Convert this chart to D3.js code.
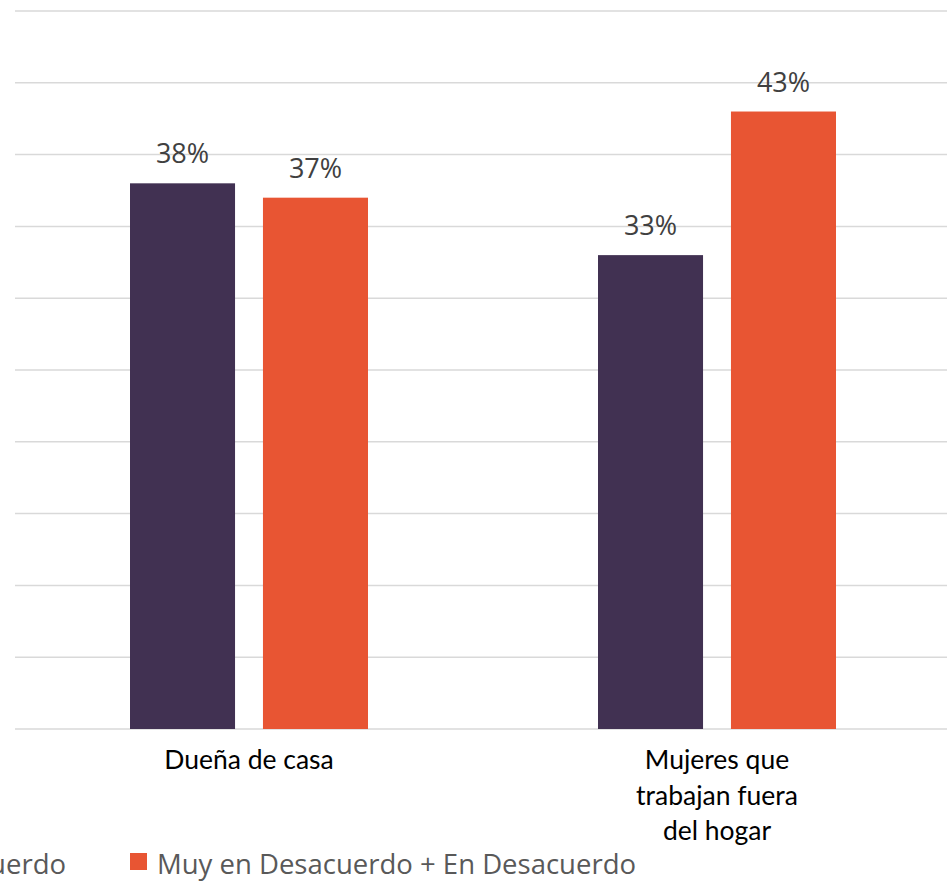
<!DOCTYPE html>
<html><head><meta charset="utf-8">
<script src="https://cdn.jsdelivr.net/npm/d3@7"></script>
<style>html,body{margin:0;padding:0;background:#fff;overflow:hidden}</style>
</head><body>
<svg id="c" width="947" height="882"></svg>
<script>
const categories = ["Dueña de casa", "Mujeres que\ntrabajan fuera\ndel hogar"];
const seriesNames = ["Muy de Acuerdo + De Acuerdo", "Muy en Desacuerdo + En Desacuerdo"];
const seriesA = [38, 33];
const seriesB = [37, 43];
const colors = ["#413152", "#E85533"];
const yTicks = [0,5,10,15,20,25,30,35,40,45,50];

const svg = d3.select("#c");
const x = d3.scaleBand().domain(categories).range([15, 951]).paddingInner(0).paddingOuter(0);
const xs = d3.scaleBand().domain([0,1]).range([0, 238]).paddingInner(0.21);
const y = d3.scaleLinear().domain([0, 50]).range([729, 11]);

svg.append("g").selectAll("line").data(yTicks).join("line")
  .attr("x1", 15).attr("x2", 951)
  .attr("y1", d => y(d)).attr("y2", d => y(d))
  .attr("stroke", "#D9D9D9").attr("stroke-width", 1.5);

const data = categories.map((c,i) => ({c, vals:[seriesA[i], seriesB[i]]}));
const g = svg.append("g").selectAll("g").data(data).join("g")
  .attr("transform", d => `translate(${x(d.c) + x.bandwidth()/2 - 119},0)`);
g.selectAll("rect").data(d => d.vals).join("rect")
  .attr("x", (d,i) => xs(i)).attr("width", xs.bandwidth())
  .attr("y", d => y(d)).attr("height", d => y(0) - y(d))
  .attr("fill", (d,i) => colors[i]);
g.selectAll("text").data(d => d.vals).join("text")
  .attr("x", (d,i) => xs(i) + xs.bandwidth()/2)
  .attr("y", d => y(d) - 20)
  .attr("text-anchor", "middle")
  .attr("font-family", "'Open Sans', sans-serif").attr("font-size", 27)
  .attr("fill", "#404040")
  .text(d => d + "%");

// category labels
categories.forEach(c => {
  const lines = c.split("\n");
  const t = svg.append("text").attr("text-anchor", "middle")
    .attr("font-family", "Lato, 'Open Sans', sans-serif").attr("font-size", 26.5)
    .attr("fill", "#000");
  lines.forEach((l, j) => {
    t.append("tspan").attr("x", x(c) + x.bandwidth()/2)
      .attr("y", 769 + j*35.5).text(l);
  });
});

// legend
const lg = svg.append("g").attr("font-family", "'Open Sans', sans-serif").attr("font-size", 27.5).attr("fill", "#595959");
lg.append("text").attr("x", 66).attr("y", 874).attr("text-anchor", "end").text(seriesNames[0]);
lg.append("rect").attr("x", -460).attr("y", 853).attr("width", 17).attr("height", 17).attr("fill", colors[0]);
lg.append("rect").attr("x", 130).attr("y", 853).attr("width", 17).attr("height", 17).attr("fill", colors[1]);
lg.append("text").attr("x", 157).attr("y", 874).text(seriesNames[1]);
</script>
</body></html>
